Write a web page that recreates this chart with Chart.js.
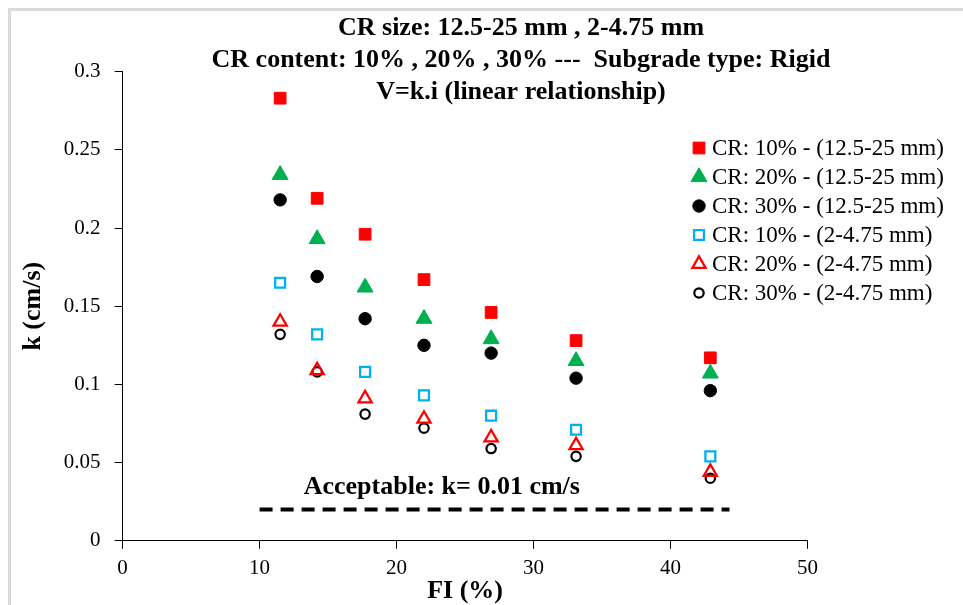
<!DOCTYPE html>
<html>
<head>
<meta charset="utf-8">
<script src="https://cdn.jsdelivr.net/npm/chart.js@4.4.1/dist/chart.umd.min.js"></script>
<style>
  html, body { margin: 0; padding: 0; background: #ffffff; overflow: hidden; }
  #frame { position: absolute; left: 8px; top: 8px; width: 1000px; height: 700px;
           border-left: 3px solid #dadada; border-top: 3px solid #dadada; }
  #c { position: absolute; left: 0; top: 0; }
</style>
</head>
<body>
<div id="frame"></div>
<canvas id="c" width="963" height="605"></canvas>
<script>
// ---- data ----
const fi = [11.5, 14.2, 17.7, 22.0, 26.9, 33.1, 42.9];
const cr10Coarse = [0.283, 0.219, 0.196, 0.167, 0.146, 0.128, 0.117];
const cr20Coarse = [0.234, 0.193, 0.162, 0.142, 0.129, 0.115, 0.107];
const cr30Coarse = [0.218, 0.169, 0.142, 0.125, 0.120, 0.104, 0.096];
const cr10Fine = [0.165, 0.132, 0.108, 0.093, 0.080, 0.071, 0.054];
const cr20Fine = [0.140, 0.109, 0.091, 0.078, 0.066, 0.061, 0.044];
const cr30Fine = [0.132, 0.108, 0.081, 0.072, 0.059, 0.054, 0.040];
const acceptableFI = [10, 44.3];
const acceptableK = [0.02, 0.02];
const acceptableLabel = "Acceptable: k= 0.01 cm/s";
const acceptableLabelAt = [23.3, 0.034];

const legendLabels = [
  "CR: 10% - (12.5-25 mm)",
  "CR: 20% - (12.5-25 mm)",
  "CR: 30% - (12.5-25 mm)",
  "CR: 10% - (2-4.75 mm)",
  "CR: 20% - (2-4.75 mm)",
  "CR: 30% - (2-4.75 mm)"
];
const titleLines = [
  "CR size: 12.5-25 mm , 2-4.75 mm",
  "CR content: 10% , 20% , 30% ---  Subgrade type: Rigid",
  "V=k.i (linear relationship)"
];
const xTickLabels = ["0", "10", "20", "30", "40", "50"];
const yTickLabels = ["0", "0.05", "0.1", "0.15", "0.2", "0.25", "0.3"];
const xTitle = "FI (%)";
const yTitle = "k (cm/s)";

// ---- build ----
const serif = "'Liberation Serif', 'Times New Roman', serif";
const pts = (ys) => fi.map((x, i) => ({x: x, y: ys[i]}));

const series = [
  {data: cr10Coarse, style: 'rect', r: 8.3, fill: '#FF0000', stroke: '#FF0000', bw: 1},
  {data: cr20Coarse, style: 'triangle', r: 9.2, fill: '#00B050', stroke: '#00B050', bw: 1},
  {data: cr30Coarse, style: 'circle', r: 6.2, fill: '#000000', stroke: '#000000', bw: 1},
  {data: cr10Fine, style: 'rect', r: 7, fill: 'rgba(0,0,0,0)', stroke: '#00B0F0', bw: 2.3},
  {data: cr20Fine, style: 'triangle', r: 7.6, fill: 'rgba(0,0,0,0)', stroke: '#FF0000', bw: 2.3},
  {data: cr30Fine, style: 'circle', r: 4.7, fill: 'rgba(0,0,0,0)', stroke: '#000000', bw: 2.2}
];

const datasets = series.map((s, i) => ({
  label: legendLabels[i],
  data: pts(s.data),
  showLine: false,
  pointStyle: s.style,
  pointRadius: s.r,
  pointHoverRadius: s.r,
  pointBackgroundColor: s.fill,
  pointBorderColor: s.stroke,
  pointBorderWidth: s.bw,
  backgroundColor: s.fill,
  borderColor: s.stroke
}));

datasets.push({
  label: 'acceptable',
  data: acceptableFI.map((x, i) => ({x: x, y: acceptableK[i]})),
  showLine: true,
  borderColor: '#000000',
  borderWidth: 4,
  borderDash: [13, 8],
  pointRadius: 0,
  fill: false
});

const decorPlugin = {
  id: 'decor',
  afterDraw(chart) {
    const ctx = chart.ctx;
    const xs = chart.scales.x, ys = chart.scales.y;
    ctx.save();
    // title
    ctx.fillStyle = '#000';
    ctx.textAlign = 'center';
    ctx.textBaseline = 'middle';
    ctx.font = 'bold 26px ' + serif;
    const titleY = [28, 60, 92];
    titleLines.forEach((t, i) => ctx.fillText(t, 521, titleY[i]));
    // acceptable label
    ctx.fillText(acceptableLabel, xs.getPixelForValue(acceptableLabelAt[0]), ys.getPixelForValue(acceptableLabelAt[1]));
    // legend
    const lx = 699, tx = 712;
    const rowY = [148, 177, 206, 235, 264, 293];
    ctx.font = '23px ' + serif;
    ctx.textAlign = 'left';
    series.forEach((s, i) => {
      ctx.fillStyle = s.fill;
      ctx.strokeStyle = s.stroke;
      ctx.lineWidth = s.bw;
      ctx.setLineDash([]);
      Chart.helpers.drawPoint(ctx, {pointStyle: s.style, radius: s.r, borderWidth: s.bw, rotation: 0}, lx, rowY[i]);
      ctx.fillStyle = '#000';
      ctx.fillText(legendLabels[i], tx, rowY[i] + 1);
    });
    ctx.restore();
  }
};

new Chart(document.getElementById('c'), {
  type: 'scatter',
  data: {datasets: datasets},
  options: {
    responsive: false,
    animation: false,
    events: [],
    layout: {padding: {top: 71.6, right: 155.4, bottom: 0, left: 0}},
    plugins: {legend: {display: false}, title: {display: false}, tooltip: {enabled: false}},
    scales: {
      x: {
        type: 'linear', min: 0, max: 50,
        afterFit: (s) => { s.height = 64.2; },
        ticks: {
          stepSize: 10, color: '#000', padding: 7,
          font: {family: serif, size: 21},
          callback: (v) => xTickLabels[Math.round(v / 10)]
        },
        grid: {drawOnChartArea: false, drawTicks: true, tickLength: 8, color: '#000'},
        border: {display: true, color: '#000', width: 1},
        title: {display: true, text: xTitle, color: '#000', padding: 0,
                font: {family: serif, size: 26, weight: 'bold', lineHeight: 1.05}}
      },
      y: {
        type: 'linear', min: 0, max: 0.3,
        afterFit: (s) => { s.width = 122.6; },
        ticks: {
          stepSize: 0.05, color: '#000', padding: 14,
          font: {family: serif, size: 21},
          callback: (v) => yTickLabels[Math.round(v / 0.05)]
        },
        grid: {drawOnChartArea: false, drawTicks: true, tickLength: 8, color: '#000'},
        border: {display: true, color: '#000', width: 1},
        title: {display: true, text: yTitle, color: '#000', padding: {top: 19, bottom: 0},
                font: {family: serif, size: 26, weight: 'bold', lineHeight: 1.1}}
      }
    }
  },
  plugins: [decorPlugin]
});
</script>
</body>
</html>
